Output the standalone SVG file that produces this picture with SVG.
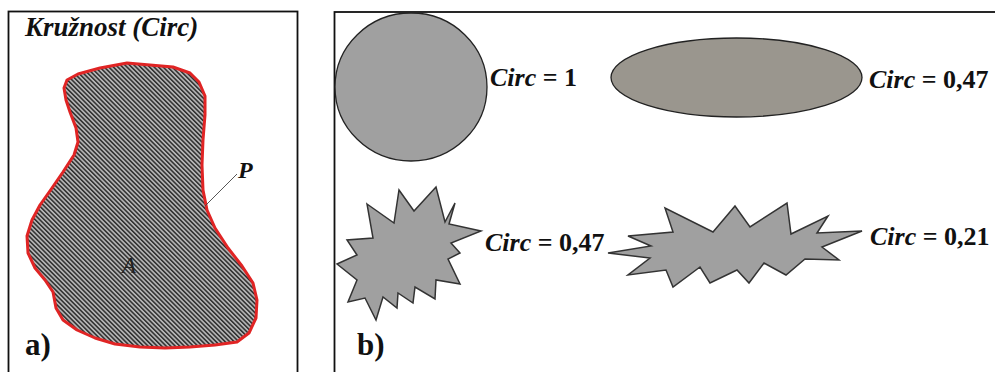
<svg xmlns="http://www.w3.org/2000/svg" width="995" height="372" viewBox="0 0 995 372">
<style>
.frame{fill:none;stroke:#111;stroke-width:1.8}
.shape{fill:#a0a0a0;stroke:#333;stroke-width:1.5;stroke-linejoin:miter}
</style>
<defs>
<pattern id="hatch" width="3.2" height="20" patternUnits="userSpaceOnUse" patternTransform="rotate(-45)">
<rect width="3.2" height="20" fill="#b4b4b4"/>
<rect width="1.5" height="20" fill="#2e2e2e"/>
</pattern>
</defs>
<g id="panel-a">
<rect class="frame" x="8.5" y="11.5" width="289" height="370"/>
<text x="25" y="36" font-family="'Liberation Serif', serif" font-weight="bold" font-style="italic" font-size="27" fill="#111">Kružnost (Circ)</text>
<polygon id="blob" fill="url(#hatch)" stroke="#e02424" stroke-width="3" stroke-linejoin="round" points="64,88 67,80 78,74 100,68 127,63 150,65 173,67 190,73 199,82 205,96 205,115 203,140 202,165 203,190 207,210 215,228 228,248 242,266 253,283 257,300 256,318 249,333 237,342 215,345 190,347 165,348 140,347 115,344 95,338 77,330 63,320 56,308 53,292 45,280 35,268 28,253 27,236 32,220 40,205 52,188 63,172 74,155 78,142 76,128 70,112 66,100"/>
<line x1="237" y1="174" x2="205" y2="206" stroke="#444" stroke-width="0.9"/>
<text x="238" y="178" font-family="'Liberation Serif', serif" font-weight="bold" font-style="italic" font-size="24" fill="#111">P</text>
<text x="122" y="273" font-family="'Liberation Serif', serif" font-style="italic" font-size="23" fill="#222">A</text>
<text x="25" y="355" font-family="'Liberation Serif', serif" font-weight="bold" font-size="31" fill="#111">a)</text>
</g>
<g id="panel-b">
<rect class="frame" x="334.5" y="12" width="670" height="370" stroke="#444" stroke-width="1.5"/>
<g id="circle-node">
<ellipse cx="411" cy="87" rx="76" ry="74" fill="#a0a0a0" stroke="#222" stroke-width="1.3"/>
<text x="490" y="86" font-family="'Liberation Serif', serif" font-weight="bold" font-size="26" fill="#111"><tspan font-style="italic">Circ</tspan> = 1</text>
</g>
<g id="ellipse-node">
<ellipse cx="736.5" cy="77.5" rx="125.5" ry="39.5" fill="#9a968e" stroke="#222" stroke-width="1.3"/>
<text x="869" y="88" font-family="'Liberation Serif', serif" font-weight="bold" font-size="26" fill="#111"><tspan font-style="italic">Circ</tspan> = 0,47</text>
</g>
<g id="star1-node">
<polygon class="shape" points="367,204 394,223 399,190 414,211 436,187 445,222 455,203 449,224 481,231 451,243 460,253 448,259 460,284 436,280 435,299 415,287 413,303 398,293 397,308 383,297 376,320 365,298 348,302 357,280 337,264 357,255 347,240 373,238"/>
<text x="485" y="251" font-family="'Liberation Serif', serif" font-weight="bold" font-size="26" fill="#111"><tspan font-style="italic">Circ</tspan> = 0,47</text>
</g>
<g id="star2-node">
<polygon class="shape" points="608,253 651,246 628,236 673,232 665,208 713,232 735,206 750,227 787,203 791,234 828,216 817,233 862,231 822,247 839,260 805,259 786,275 764,263 749,283 737,270 710,283 700,267 673,287 666,270 628,275 650,258"/>
<text x="870" y="245" font-family="'Liberation Serif', serif" font-weight="bold" font-size="26" fill="#111"><tspan font-style="italic">Circ</tspan> = 0,21</text>
</g>
<text x="357" y="355" font-family="'Liberation Serif', serif" font-weight="bold" font-size="31" fill="#111">b)</text>
</g>
<g id="connectors"></g>
</svg>
